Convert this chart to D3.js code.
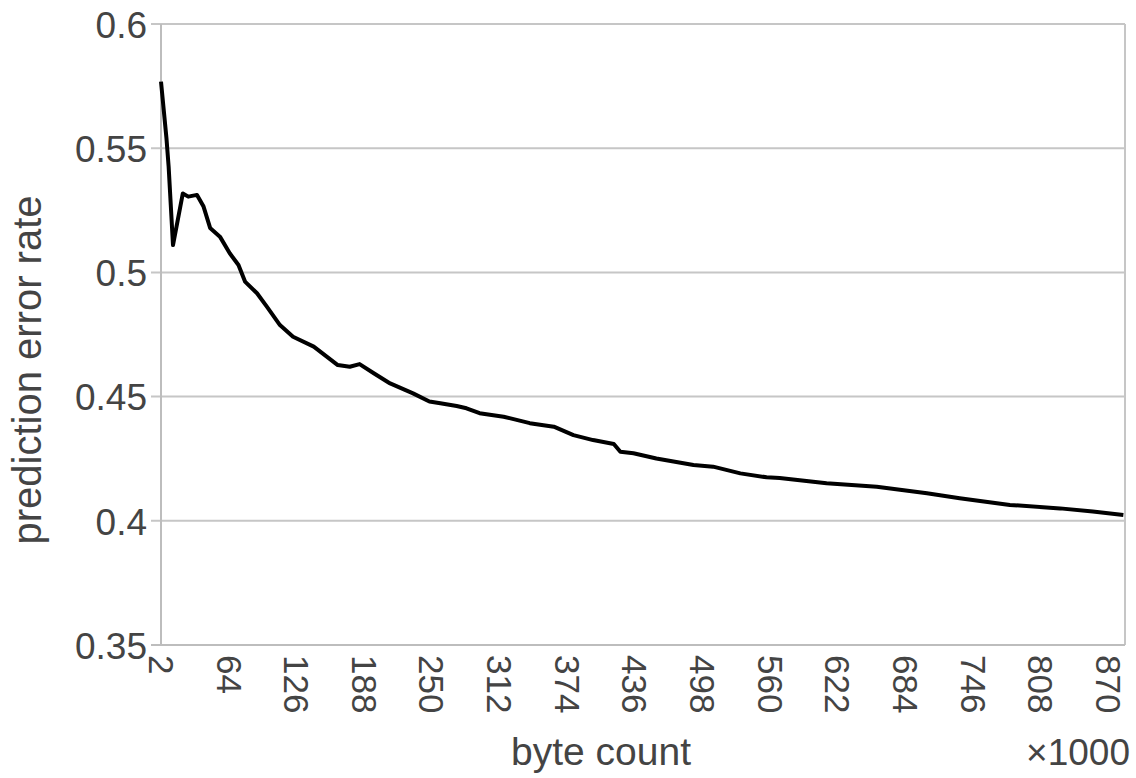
<!DOCTYPE html>
<html><head><meta charset="utf-8">
<script src="https://cdn.jsdelivr.net/npm/d3@7"></script>
<style>body{margin:0;background:#fff}svg{display:block}text{font-family:"Liberation Sans",Arial,sans-serif;fill:#444}</style>
</head><body>
<script>
const byteCount = [2,7,9,13,22,27,35,41,47,56,65,73,79,90,99,111,123,142,164,175,184,197,212,233,248,258,273,282,294,316,340,362,380,398,417,423,435,456,490,508,533,557,569,612,658,704,734,780,826,856,884];
const errorRate = [0.5768,0.554,0.5426,0.511,0.5318,0.5305,0.5312,0.5265,0.5179,0.5144,0.5077,0.503,0.4963,0.4916,0.4862,0.4788,0.4741,0.4701,0.4627,0.462,0.4631,0.4594,0.4553,0.4513,0.448,0.4473,0.4462,0.4453,0.4433,0.4419,0.4393,0.4379,0.4345,0.4325,0.4309,0.4278,0.4272,0.4251,0.4225,0.4218,0.4191,0.4175,0.4172,0.4151,0.4137,0.4111,0.4091,0.4064,0.405,0.4037,0.4023];
const xTicks = [2,64,126,188,250,312,374,436,498,560,622,684,746,808,870];
const yTicks = [0.35,0.4,0.45,0.5,0.55,0.6];

const W=1136,H=778, L=161,R=1125,T=24,B=645;
const svg=d3.select("body").append("svg").attr("width",W).attr("height",H);
const x=d3.scaleLinear().domain([2,885.5]).range([L,R]);
const y=d3.scaleLinear().domain([0.35,0.6]).range([B,T]);

// gridlines
svg.append("g").selectAll("line").data(yTicks.filter(d=>d>0.35)).join("line")
  .attr("x1",L-10).attr("x2",R).attr("y1",d=>y(d)).attr("y2",d=>y(d))
  .attr("stroke","#c6c6c6").attr("stroke-width",2);
// frame
svg.append("line").attr("x1",R).attr("x2",R).attr("y1",T).attr("y2",B).attr("stroke","#c6c6c6").attr("stroke-width",2);
svg.append("line").attr("x1",L).attr("x2",L).attr("y1",T).attr("y2",B).attr("stroke","#bdbdbd").attr("stroke-width",2);
svg.append("line").attr("x1",L-10).attr("x2",R).attr("y1",B).attr("y2",B).attr("stroke","#bdbdbd").attr("stroke-width",2);

// y tick labels
const yAxis=d3.axisLeft(y).tickValues(yTicks).tickFormat(d=>String(+d.toFixed(2))).tickSize(0).tickPadding(14);
const gy=svg.append("g").attr("transform",`translate(${L},0)`).call(yAxis);
gy.select(".domain").remove();
gy.selectAll("text").attr("font-size",37).style("fill","#444").attr("font-family","Liberation Sans, Arial, sans-serif").attr("dy","0.36em");

// x tick labels rotated
const xAxis=d3.axisBottom(x).tickValues(xTicks).tickFormat(d3.format("d")).tickSize(0).tickPadding(0);
const gx=svg.append("g").attr("transform",`translate(0,${B})`).call(xAxis);
gx.select(".domain").remove();
gx.selectAll("text").attr("font-size",35).style("fill","#444").attr("font-family","Liberation Sans, Arial, sans-serif")
  .attr("text-anchor","start").attr("y",0).attr("dy","0.36em")
  .attr("transform","translate(0,10) rotate(90)");

// line
const line=d3.line().x((d,i)=>x(byteCount[i])).y(d=>y(d)).curve(d3.curveLinear);
svg.append("path").datum(errorRate).attr("d",line).attr("fill","none").attr("stroke","#000").attr("stroke-width",4).attr("stroke-linejoin","round");

// axis titles
svg.append("text").attr("x",601).attr("y",765).attr("text-anchor","middle").attr("font-size",39).text("byte count");
svg.append("text").attr("x",1130).attr("y",765).attr("text-anchor","end").attr("font-size",37).text("×1000");
svg.append("text").attr("transform","translate(41,370) rotate(-90)").attr("text-anchor","middle").attr("font-size",40).text("prediction error rate");
</script>
</body></html>
